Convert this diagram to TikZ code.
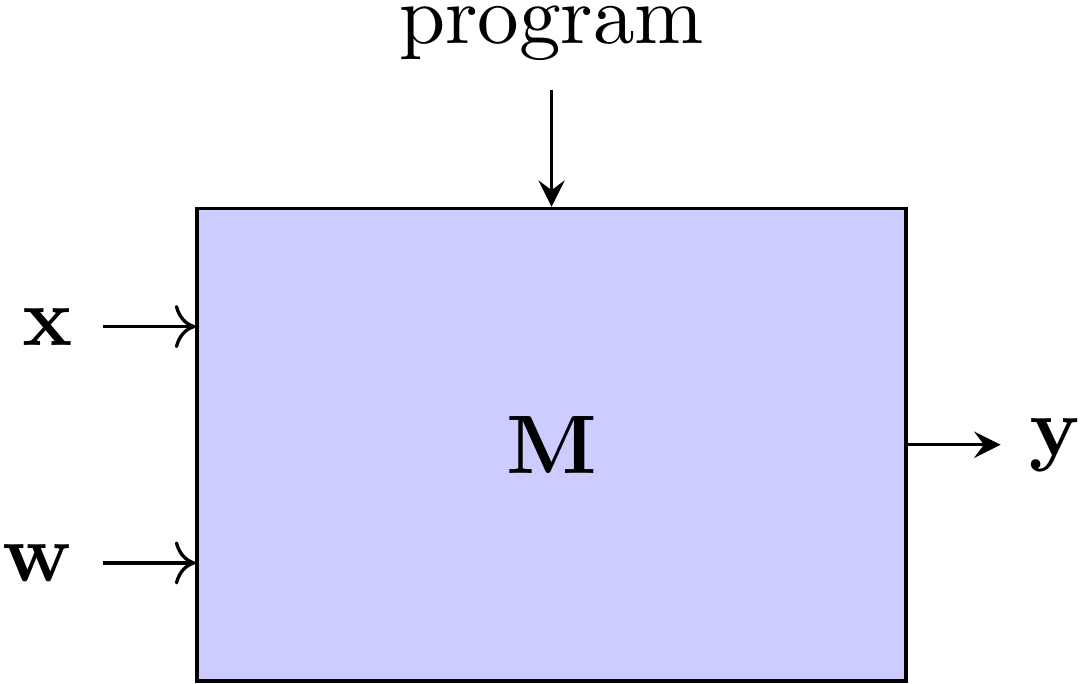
\documentclass[tikz,border=0pt]{standalone}
\usepackage{amsmath}
\usepackage{xcolor}
\usepackage{tikz}
\usetikzlibrary{calc, positioning, arrows.meta}

\begin{document}
\begin{tikzpicture}[
        blk/.style={rectangle, draw=black, thin, fill=blue!20,
            minimum width=3cm, minimum height=2cm, inner sep=0pt},
        inarr/.style={->},
        arr/.style={->, >=stealth}
    ]
    \useasboundingbox (-0.834,-0.009) rectangle (3.749,2.882);
    \node[blk] (M) at (1.5,1) {$\mathbf{M}$};
    \node[anchor=east] (xin) at (-0.4,1.5) {$\mathbf{x}$};
    \node[anchor=east] (win) at (-0.4,0.5) {$\mathbf{w}$};
    \node[anchor=west] (yout) at (3.4,1) {$\mathbf{y}$};
    \node[anchor=south] (prog) at (1.5,2.5) {program};

    \draw[inarr] (xin.east) -- (M.west |- xin.east);
    \draw[inarr] (win.east) -- (M.west |- win.east);
    \draw[arr] (M.east) -- (yout.west);
    \draw[arr] (prog.south) -- (M.north);
\end{tikzpicture}
\end{document}
